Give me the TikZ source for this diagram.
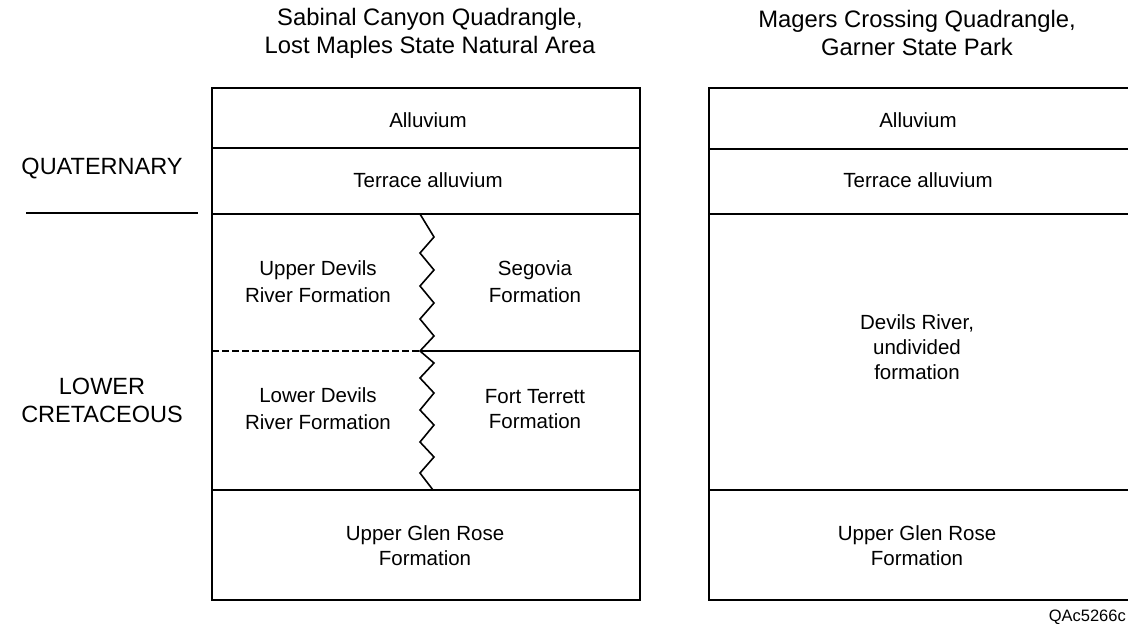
\documentclass[tikz,border=0pt]{standalone}
\usepackage{fontspec}
\setmainfont{Liberation Sans}
\begin{document}
\begin{tikzpicture}[x=1pt,y=-1pt,
  lbl/.style={align=center,font=\fontsize{20.5}{25}\selectfont,inner sep=0pt},
  lblw/.style={align=center,font=\fontsize{20.5}{27}\selectfont,inner sep=0pt},
  era/.style={align=center,font=\fontsize{23.5}{28}\selectfont,inner sep=0pt},
  ttl/.style={align=center,font=\fontsize{23.8}{28}\selectfont,inner sep=0pt},
  frame/.style={line width=1.6pt},
  zz/.style={line width=1.6pt,line join=miter}]
\useasboundingbox (0,0) rectangle (1128,624);
% titles
\node[ttl] (t1) at (430,33) {Sabinal Canyon Quadrangle,\\Lost Maples State Natural Area};
\node[ttl] (t2) at (917,33) {Magers Crossing Quadrangle,\\Garner State Park};
% era labels
\node[era] (q) at (102,169) {QUATERNARY};
\coordinate (qa) at (26,213);
\coordinate (qb) at (198,213);
\draw[line width=1.3pt] (qa) -- (qb);
\node[era] (lc) at (102,400) {LOWER\\CRETACEOUS};
% left column
\coordinate (L1) at (212,88);
\coordinate (L2) at (640,600);
\draw[frame] (L1) rectangle (L2);
\draw[frame] (212,148) -- (640,148);
\draw[frame] (212,214) -- (640,214);
\draw[frame] (212,490) -- (640,490);
\draw[frame,dash pattern=on 7pt off 3pt] (212,351) -- (420,351);
\draw[frame] (420,351) -- (640,351);
\draw[zz] (420,214) -- (434,237) -- (420,253) -- (434,270) -- (420,286) -- (434,303) -- (420,319) -- (434,336) -- (420,351)
  -- (434,363) -- (420,378) -- (434,393) -- (420,410) -- (434,425) -- (420,442) -- (434,457) -- (420,473) -- (433,490);
\node[lbl] (a1) at (428,120) {Alluvium};
\node[lbl] (ta1) at (428,180) {Terrace alluvium};
\node[lblw] (udr) at (318,282) {Upper Devils\\River Formation};
\node[lblw] (seg) at (535,282) {Segovia\\Formation};
\node[lblw] (ldr) at (318,409) {Lower Devils\\River Formation};
\node[lbl] (ft) at (535,409) {Fort Terrett\\Formation};
\node[lbl] (ugr1) at (425,546) {Upper Glen Rose\\Formation};
% right column
\draw[frame] (1135,88) -- (709,88) -- (709,600) -- (1135,600);
\draw[frame] (709,149) -- (1135,149);
\draw[frame] (709,214) -- (1135,214);
\draw[frame] (709,490) -- (1135,490);
\node[lbl] (a2) at (918,120) {Alluvium};
\node[lbl] (ta2) at (918,180) {Terrace alluvium};
\node[lbl] (dr) at (917,347) {Devils River,\\undivided\\formation};
\node[lbl] (ugr2) at (917,546) {Upper Glen Rose\\Formation};
\node[anchor=base east,inner sep=0pt,font=\fontsize{16.5}{19}\selectfont] (id) at (1126,621) {QAc5266c};
\end{tikzpicture}
\end{document}
